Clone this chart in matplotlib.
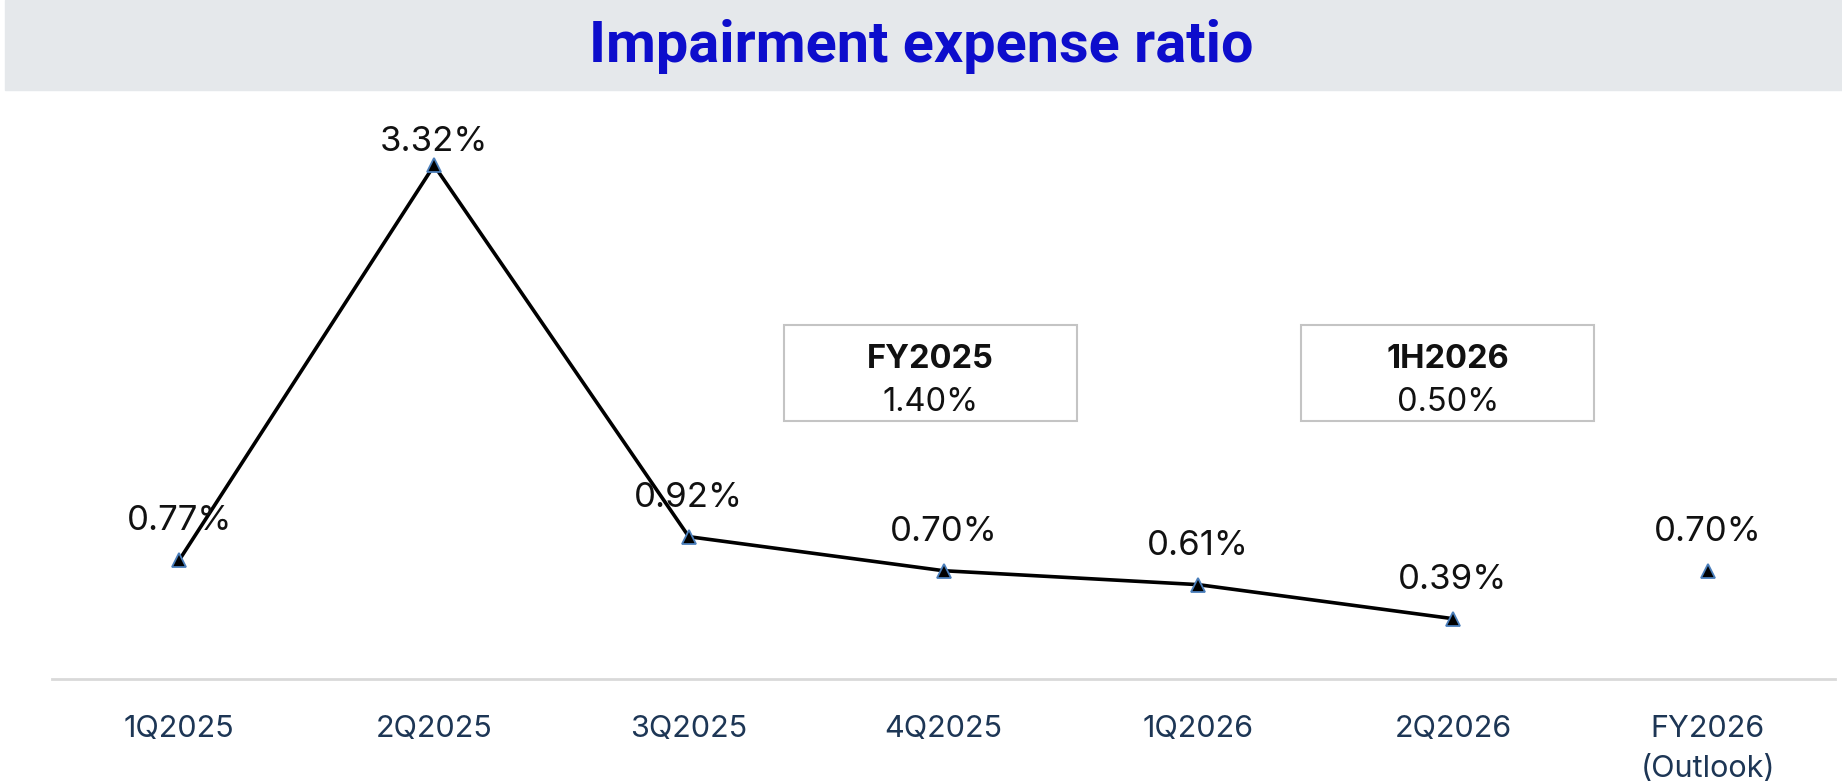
import matplotlib.pyplot as plt
from matplotlib.patches import Rectangle

# data
quarters = ['1Q2025', '2Q2025', '3Q2025', '4Q2025', '1Q2026', '2Q2026', 'FY2026\n(Outlook)']
ratios = [0.77, 3.32, 0.92, 0.70, 0.61, 0.39, 0.70]
n_line = 6  # outlook point is not joined to the line

summary_titles = ['FY2025', '1H2026']
summary_values = [1.40, 0.50]
summary_centers = [2.95, 4.98]

FONT = ['Inter', 'DejaVu Sans']
NAVY = '#1d3655'

fig = plt.figure(figsize=(18.42, 7.82), dpi=100)

# title band
fig.patches.append(Rectangle((5 / 1842, 1 - 90 / 782), 1, 90 / 782,
                             transform=fig.transFigure, color='#e5e8eb', zorder=0))
fig.text(0.5, 1 - 46 / 782, 'Impairment expense ratio', ha='center', va='center',
         fontsize=41.5, fontweight='bold', color='#0d0dcc', family=['Roboto', 'DejaVu Sans'])

ax = fig.add_axes([52 / 1842, 1 - 679 / 782, (1835 - 52) / 1842, 579 / 782])
x = list(range(len(quarters)))

ax.plot(x[:n_line], ratios[:n_line], color='black', lw=2.6, zorder=2)
ax.plot(x, ratios, ls='none', marker='^', ms=10.5, mfc='black', mec='#4a7ebb', mew=1.3, zorder=3)

for i, v in enumerate(ratios):
    off = 17 if v == max(ratios) else 28
    ax.annotate(f'{v:.2f}%', (i, v), xytext=(0, off), textcoords='offset points',
                ha='center', va='center', fontsize=25, color='#111111', family=FONT)

# summary boxes
box_w, box_y0, box_y1 = 1.15, 1.668, 2.288
for c, t, v in zip(summary_centers, summary_titles, summary_values):
    ax.add_patch(Rectangle((c - box_w / 2, box_y0), box_w, box_y1 - box_y0,
                           fill=False, ec='#c4c4c4', lw=1.5, zorder=1))
    ax.text(c, 2.065, t, ha='center', va='center', fontsize=23.5, fontweight='bold',
            color='#111111', family=FONT)
    ax.text(c, 1.79, f'{v:.2f}%', ha='center', va='center', fontsize=23.5,
            color='#111111', family=FONT)

ax.set_xlim(-0.5, len(quarters) - 0.5)
ax.set_ylim(0, 579 / 154.7)
ax.set_xticks(x)
ax.set_xticklabels(quarters, fontsize=22, color=NAVY, family=FONT, linespacing=1.55)
ax.tick_params(axis='x', length=0, pad=26)
ax.set_yticks([])
for s in ['top', 'left', 'right']:
    ax.spines[s].set_visible(False)
ax.spines['bottom'].set_color('#d9d9d9')
ax.spines['bottom'].set_linewidth(2)

fig.savefig('out.png', dpi=100)
